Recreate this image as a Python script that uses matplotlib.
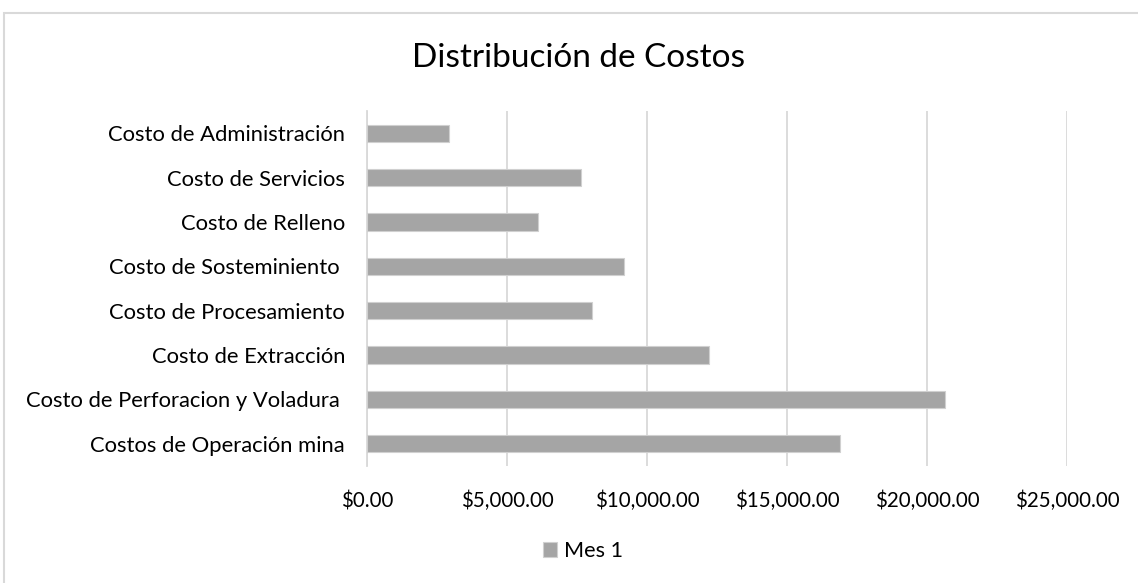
import matplotlib.pyplot as plt
from matplotlib.patches import Rectangle
from matplotlib.ticker import FuncFormatter

# cost items, bottom to top
categorias = ["Costos de Operación mina", "Costo de Perforacion y Voladura ",
              "Costo de Extracción", "Costo de Procesamiento",
              "Costo de Sosteminiento ", "Costo de Relleno",
              "Costo de Servicios", "Costo de Administración"]
mes1 = [16893, 20621, 12216, 8020, 9171, 6100, 7636, 2900]
xticks = [0, 5000, 10000, 15000, 20000, 25000]
serie = "Mes 1"

plt.rcParams['font.family'] = ['Lato', 'DejaVu Sans']

fig = plt.figure(figsize=(11.38, 5.83), dpi=100)
# chart border
fig.patches.append(Rectangle((4/1138, -0.01), 1.1, (583-13)/583 + 0.01,
                             transform=fig.transFigure, fill=False,
                             edgecolor="#D9D9D9", linewidth=1.5))

ax = fig.add_axes([367.3/1138, 117/583, 700/1138, 355/583])
pos = range(len(categorias))
ax.barh(pos, mes1, height=0.39, color="#A5A5A5", edgecolor="#D0D0D0",
        linewidth=0.8, label=serie, zorder=3)

ax.set_xlim(0, 25000)
ax.set_ylim(-0.5, len(categorias) - 0.5)
ax.set_xticks(xticks)
ax.xaxis.set_major_formatter(FuncFormatter(lambda v, p: "${:,.2f}".format(v)))
ax.set_yticks(list(pos))
ax.set_yticklabels(categorias)
ax.tick_params(axis="both", length=0, colors="#000000")
ax.tick_params(axis="y", pad=16, labelsize=15.8)
ax.tick_params(axis="x", pad=18, labelsize=14.8)
ax.grid(axis="x", color="#D9D9D9", linewidth=1.3, zorder=0)
for s in ["top", "right", "bottom"]:
    ax.spines[s].set_visible(False)
ax.spines["left"].set_color("#D9D9D9")
ax.spines["left"].set_linewidth(1.3)

fig.text(579/1138, 1 - 58/583, "Distribución de Costos", ha="center",
         va="center", fontsize=24)

fig.legend(loc="center", bbox_to_anchor=(583/1138, 1 - 551/583), frameon=False,
           fontsize=15.6, handlelength=0.65, handleheight=0.65, handletextpad=0.3)

fig.savefig("out.png", dpi=100)
